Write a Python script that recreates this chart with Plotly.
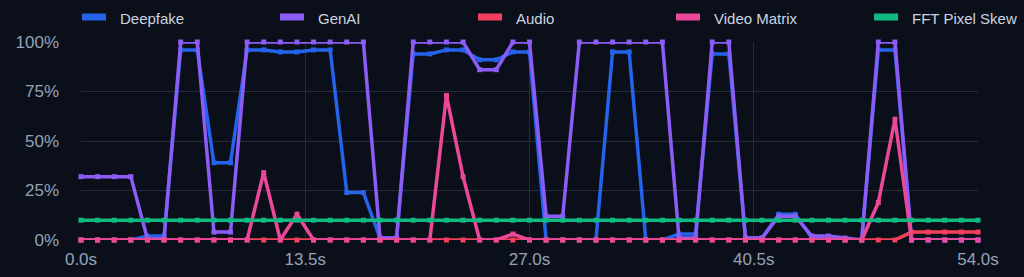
import plotly.graph_objects as go

seconds = list(range(0, 55))

deepfake = [0, 0, 0, 0, 2, 2, 96, 96, 39, 39,
            96, 96, 95, 95, 96, 96, 24, 24, 1, 1,
            94, 94, 96, 96, 91, 91, 95, 95, 0, 0,
            0, 0, 95, 95, 0, 0, 3, 3, 94, 94,
            1, 1, 13, 13, 1, 1, 0, 0, 96, 96,
            0, 0, 0, 0, 0]
genai = [32, 32, 32, 32, 0.5, 0.5, 100, 100, 4, 4,
         100, 100, 100, 100, 100, 100, 100, 100, 1, 1,
         100, 100, 100, 100, 86, 86, 100, 100, 12, 12,
         100, 100, 100, 100, 100, 100, 1, 1, 100, 100,
         1, 1, 12, 12, 2, 2, 1, 0, 100, 100,
         0, 0, 0, 0, 0]
audio = [0] * 50 + [4, 4, 4, 4, 4]
video_matrix = [0, 0, 0, 0, 0, 0, 0, 0, 0, 0,
                0, 34, 0, 13, 0, 0, 0, 0, 0, 0,
                0, 0, 73, 32, 0, 0, 3, 0, 0, 0,
                0, 0, 0, 0, 0, 0, 0, 0, 0, 0,
                0, 0, 0, 0, 0, 0, 0, 0, 19, 61,
                0, 0, 0, 0, 0]
fft_pixel_skew = [10] * 55

series_names = ["Deepfake", "GenAI", "Audio", "Video Matrix", "FFT Pixel Skew"]
series_values = [deepfake, genai, audio, video_matrix, fft_pixel_skew]
series_colors = ["#2563eb", "#8b5cf6", "#f43f5e", "#ec4899", "#10b981"]

x_tick_vals = [0, 13.5, 27, 40.5, 54]
x_tick_text = ["0.0s", "13.5s", "27.0s", "40.5s", "54.0s"]
y_tick_vals = [0, 25, 50, 75, 100]
y_tick_text = ["0%", "25%", "50%", "75%", "100%"]

BG = "#0b0f19"
GRID = "#262c3a"
TICK_COLOR = "#94a3b8"
LEGEND_COLOR = "#cbd5e1"
FONT = "Liberation Sans, Arial, sans-serif"

fig = go.Figure()
for name, vals, col in zip(series_names, series_values, series_colors):
    fig.add_trace(go.Scatter(
        x=seconds, y=vals, name=name, mode="lines+markers",
        line=dict(color=col, width=3.5),
        marker=dict(color=col, size=5, symbol="square"),
        cliponaxis=False, showlegend=False,
    ))

# custom legend (swatch rectangles + text), laid out across the top
plot_left, plot_right, plot_top, plot_bottom = 81, 978, 42, 240
pw = plot_right - plot_left
ph = plot_bottom - plot_top
shapes = []
annotations = []
for i, (name, col) in enumerate(zip(series_names, series_colors)):
    sx = 82 + 198 * i
    shapes.append(dict(
        type="rect", xref="paper", yref="paper",
        x0=(sx - plot_left) / pw, x1=(sx + 24 - plot_left) / pw,
        y0=(plot_bottom - 20.5) / ph, y1=(plot_bottom - 13.5) / ph,
        fillcolor=col, line=dict(width=0), layer="above",
    ))
    annotations.append(dict(
        text=name, xref="paper", yref="paper",
        x=(sx + 36 - plot_left) / pw, y=(plot_bottom - 18) / ph,
        xanchor="left", yanchor="middle", showarrow=False,
        font=dict(family=FONT, size=15, color=LEGEND_COLOR),
    ))

fig.update_layout(
    width=1024, height=277,
    margin=dict(l=plot_left, r=1024 - plot_right, t=plot_top, b=277 - plot_bottom),
    paper_bgcolor=BG, plot_bgcolor=BG,
    font=dict(family=FONT, size=17, color=TICK_COLOR),
    shapes=shapes, annotations=annotations,
    xaxis=dict(range=[0, 54], tickvals=x_tick_vals, ticktext=x_tick_text,
               showgrid=True, gridcolor=GRID, gridwidth=1, zeroline=False,
               showline=False, ticklabelstandoff=7, automargin=False,
               tickfont=dict(family=FONT, size=17, color=TICK_COLOR)),
    yaxis=dict(range=[0, 100], tickvals=y_tick_vals, ticktext=y_tick_text,
               showgrid=True, gridcolor=GRID, gridwidth=1, zeroline=False,
               showline=False, ticklabelstandoff=21, automargin=False,
               tickfont=dict(family=FONT, size=17, color=TICK_COLOR)),
    hovermode=False,
)

fig.write_html("out.html")
